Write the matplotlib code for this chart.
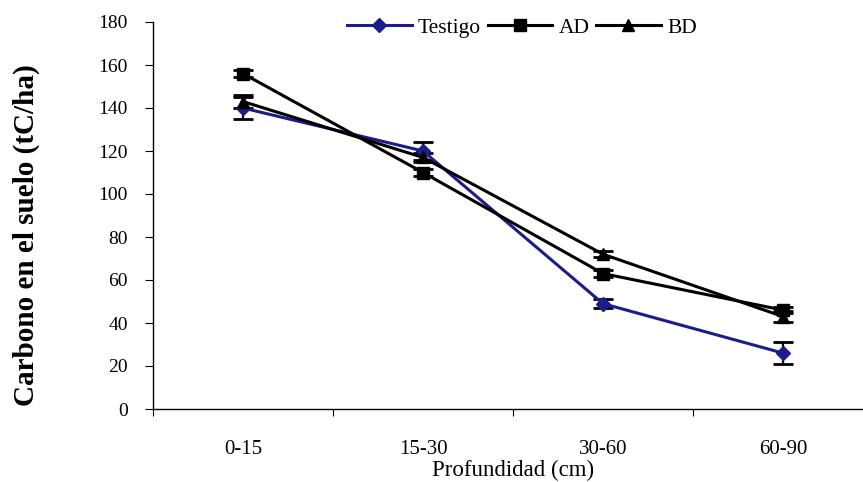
import matplotlib
matplotlib.use("Agg")
import matplotlib.pyplot as plt
import numpy as np

categories = ["0-15", "15-30", "30-60", "60-90"]
testigo = [140, 120, 49, 26]
testigo_err = [5, 4, 2, 5]
ad = [156, 110, 63, 46]
ad_err = [1.5, 1.5, 1.5, 1.5]
bd = [143, 117, 72, 43]
bd_err = [3, 2, 1.5, 2.5]
yticks = [0, 20, 40, 60, 80, 100, 120, 140, 160, 180]

plt.rcParams['font.family'] = ['Liberation Serif', 'DejaVu Serif']

fig = plt.figure(figsize=(8.63, 4.82), dpi=100)
ax = fig.add_axes([153/863, 1-409/482, 720/863, (409-22)/482])

x = np.arange(len(categories))
series = [
    (testigo, testigo_err, '#1c1c8a', 'D', 7.5, 'Testigo'),
    (ad, ad_err, 'black', 's', 8.5, 'AD'),
    (bd, bd_err, 'black', '^', 9, 'BD'),
]
for vals, err, col, mk, ms, lab in series:
    ax.errorbar(x, vals, yerr=err, fmt='none', ecolor='black', elinewidth=1.6,
                capsize=7, capthick=2.0, zorder=2)
    ax.plot(x, vals, color=col, marker=mk, markersize=ms, linewidth=2.2,
            label=lab, zorder=3)

ax.set_xlim(-0.5, 3.5)
ax.set_ylim(0, 180)
ax.set_yticks(yticks)
ax.set_xticks(x)
ax.set_xticklabels(categories)
ax.set_xticks(np.arange(-0.5, 3.6, 1.0), minor=True)
ax.tick_params(axis='x', which='major', length=0, labelsize=15, pad=22)
ax.tick_params(axis='x', which='minor', length=5, direction='out', width=0.8)
ax.tick_params(axis='y', length=6, direction='out', labelsize=14, width=0.8, pad=12)
for s in ['top', 'right']:
    ax.spines[s].set_visible(False)
for s in ['left', 'bottom']:
    ax.spines[s].set_linewidth(1.0)

ax.set_xlabel('Profundidad (cm)', fontsize=16.5, labelpad=1)
ax.set_ylabel('Carbono en el suelo (tC/ha)', fontsize=21, fontweight='bold')
ax.yaxis.set_label_coords(-0.157, 0.45)

leg = ax.legend(loc='upper center', bbox_to_anchor=(522/863, 0.99), bbox_transform=fig.transFigure,
                ncol=3, frameon=False, fontsize=15.5, handlelength=3.0, columnspacing=0.3,
                handletextpad=0.3, borderaxespad=0.2)

fig.savefig('out.png', dpi=100)
